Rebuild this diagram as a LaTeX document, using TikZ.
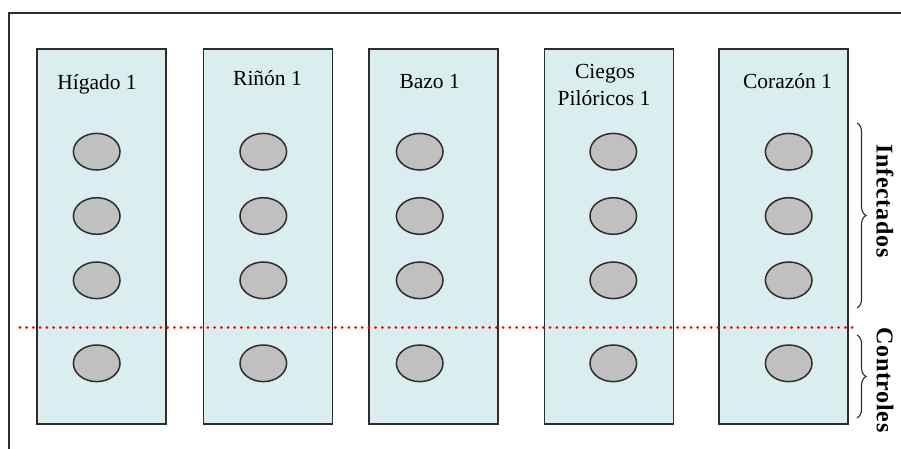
\documentclass[tikz,border=0pt]{standalone}
\usepackage{fontspec}
\setmainfont{Liberation Serif}
\usetikzlibrary{shapes.geometric,decorations.pathreplacing}
\definecolor{colfill}{RGB}{218,238,240}
\definecolor{ellfill}{RGB}{192,192,192}
\definecolor{edge}{RGB}{45,45,45}
\tikzset{
  column/.style={draw=edge, line width=1.4pt, fill=colfill, minimum width=129pt, minimum height=375pt, inner sep=0pt},
  sample/.style={ellipse, draw=edge, line width=1.5pt, fill=ellfill, minimum width=46.6pt, minimum height=36.6pt, inner sep=0pt},
  title/.style={font=\fontsize{21.5}{26}\selectfont, inner sep=0pt, anchor=base, align=center},
  side/.style={font=\fontsize{24}{28}\selectfont\bfseries\addfontfeature{LetterSpace=3}, rotate=-90, inner sep=0pt},
  bracebar/.style={draw=edge, line width=1.1pt, decorate, decoration={brace, amplitude=9pt}},
  divider/.style={draw=red, line width=3pt, line cap=round, dash pattern=on 0.01pt off 6.7pt}
}
\begin{document}
\begin{tikzpicture}[x=1pt,y=-1pt]
\useasboundingbox (0,0) rectangle (901,448);
\clip (0,0) rectangle (901,448);
\fill[white] (0,0) rectangle (901,448);
\draw[edge, line width=1.4pt] (9,13) rectangle (920,470);
% columns
\node[column] (c1) at (101.5,236.5) {};
\node[column] (c2) at (267.7,236.5) {};
\node[column] (c3) at (433.3,236.5) {};
\node[column] (c4) at (609,236.5) {};
\node[column] (c5) at (783.5,236.5) {};
% titles
\node[title] (t1) at (97,89) {Hígado 1};
\node[title] (t2) at (267.5,85) {Riñón 1};
\node[title] (t3) at (429.7,88) {Bazo 1};
\node[title] (t4a) at (605,78) {Ciegos};
\node[title] (t4b) at (604,105) {Pilóricos 1};
\node[title] (t5) at (787.5,88) {Corazón 1};
% samples
\foreach \i/\x in {1/96.7,2/263.3,3/419.7,4/613.3,5/788.7}{
  \node[sample] (e\i a) at (\x,151.7) {};
  \node[sample] (e\i b) at (\x,216) {};
  \node[sample] (e\i c) at (\x,280.3) {};
  \node[sample] (e\i d) at (\x,363.3) {};
}
% divider
\coordinate (dl) at (20,327);
\coordinate (dr) at (857,327);
\draw[divider] (dl) -- (dr);
% braces
\coordinate (b1t) at (857,123);
\coordinate (b1b) at (857,308);
\coordinate (b2t) at (857,335);
\coordinate (b2b) at (857,418);
\draw[bracebar] (b1t) -- (b1b);
\draw[bracebar] (b2t) -- (b2b);
\node[side] (inf) at (885,201) {Infectados};
\node[side] (con) at (885,380) {Controles};
\end{tikzpicture}
\end{document}
